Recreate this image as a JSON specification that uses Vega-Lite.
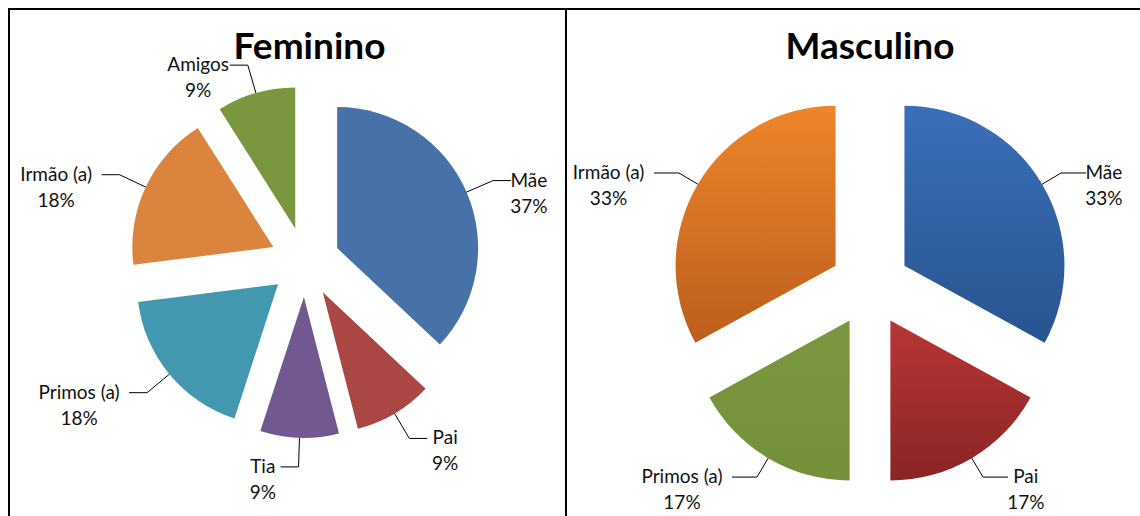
{
  "$schema": "https://vega.github.io/schema/vega-lite/v6.json",
  "background": "white",
  "padding": {"left": 8, "top": 8, "right": -7, "bottom": -6},
  "spacing": 0,
  "bounds": "flush",
  "config": {"view": {"stroke": null}},
  "datasets": {
    "fem": [
      {"cat": "Mãe", "v": 37},
      {"cat": "Pai", "v": 9},
      {"cat": "Tia", "v": 9},
      {"cat": "Primos (a)", "v": 18},
      {"cat": "Irmão (a)", "v": 18},
      {"cat": "Amigos", "v": 9}
    ],
    "masc": [
      {"cat": "Mãe", "v": 33},
      {"cat": "Pai", "v": 17},
      {"cat": "Primos (a)", "v": 17},
      {"cat": "Irmão (a)", "v": 33}
    ]
  },
  "hconcat": [
    {
      "width": 557,
      "height": 512,
      "view": {"stroke": "#000", "strokeWidth": 2},
      "title": {"text": "Feminino", "font": "Lato", "fontSize": 37, "fontWeight": "bold", "color": "#000", "anchor": "middle", "frame": "group", "offset": -87, "baseline": "alphabetic", "dx": 22},
      "data": {"name": "fem"},
      "transform": [
        {"window": [{"op": "sum", "field": "v", "as": "cum"}], "frame": [null, 0]},
        {"joinaggregate": [{"op": "sum", "field": "v", "as": "tot"}]},
        {"calculate": "2*PI*(datum.cum-datum.v)/datum.tot", "as": "a0"},
        {"calculate": "2*PI*datum.cum/datum.tot", "as": "a1"},
        {"calculate": "(datum.a0+datum.a1)/2", "as": "am"},
        {"calculate": "sin(datum.am)>=0?1:-1", "as": "side"},
        {"calculate": "35*sin(datum.am)", "as": "cx"},
        {"calculate": "35*cos(datum.am)", "as": "cy"},
        {"calculate": "176*sin(datum.am)", "as": "sx"},
        {"calculate": "176*cos(datum.am)", "as": "sy"},
        {"calculate": "205*sin(datum.am)", "as": "ex"},
        {"calculate": "205*cos(datum.am)", "as": "ey"},
        {"calculate": "datum.ex+18*datum.side", "as": "lx"},
        {"calculate": "datum.v+'%'", "as": "pct"},
        {"calculate": "datum.lx+datum.side*(max(length(datum.cat),length(datum.pct))*4.6+4)", "as": "tx"},
        {"calculate": "datum.cat+'\\n'+datum.pct", "as": "lab"}
      ],
      "layer": [
        {
          "mark": {"type": "arc", "outerRadius": 141},
          "encoding": {
            "x": {"field": "cx", "type": "quantitative", "scale": {"domain": [-296, 261], "nice": false, "zero": false}, "axis": null},
            "y": {"field": "cy", "type": "quantitative", "scale": {"domain": [-259, 253], "nice": false, "zero": false}, "axis": null},
            "theta": {"field": "a0", "type": "quantitative", "scale": null, "stack": null},
            "theta2": {"field": "a1"},
            "color": {"field": "cat", "type": "nominal", "legend": null,
              "scale": {"domain": ["Mãe", "Pai", "Tia", "Primos (a)", "Irmão (a)", "Amigos"],
                        "range": ["#4672A8", "#AA4643", "#71588F", "#4198AF", "#DB843D", "#7A963E"]}}
          }
        },
        {
          "mark": {"type": "rule", "color": "#000", "strokeWidth": 1},
          "encoding": {
            "x": {"field": "sx", "type": "quantitative", "scale": {"domain": [-296, 261], "nice": false, "zero": false}, "axis": null},
            "y": {"field": "sy", "type": "quantitative", "scale": {"domain": [-259, 253], "nice": false, "zero": false}, "axis": null},
            "x2": {"field": "ex"},
            "y2": {"field": "ey"}
          }
        },
        {
          "mark": {"type": "rule", "color": "#000", "strokeWidth": 1},
          "encoding": {
            "x": {"field": "ex", "type": "quantitative", "scale": {"domain": [-296, 261], "nice": false, "zero": false}, "axis": null},
            "y": {"field": "ey", "type": "quantitative", "scale": {"domain": [-259, 253], "nice": false, "zero": false}, "axis": null},
            "x2": {"field": "lx"},
            "y2": {"field": "ey"}
          }
        },
        {
          "mark": {"type": "text", "font": "Lato", "fontSize": 19, "letterSpacing": 0.8, "lineBreak": "\n", "lineHeight": 26, "align": "center", "baseline": "middle", "color": "#111"},
          "encoding": {
            "x": {"field": "tx", "type": "quantitative", "scale": {"domain": [-296, 261], "nice": false, "zero": false}, "axis": null},
            "y": {"field": "ey", "type": "quantitative", "scale": {"domain": [-259, 253], "nice": false, "zero": false}, "axis": null},
            "text": {"field": "lab", "type": "nominal"}
          }
        }
      ]
    },
    {
      "width": 580,
      "height": 512,
      "view": {"stroke": "#000", "strokeWidth": 2},
      "title": {"text": "Masculino", "font": "Lato", "fontSize": 37, "fontWeight": "bold", "color": "#000", "anchor": "middle", "frame": "group", "offset": -87, "baseline": "alphabetic", "dx": 14},
      "data": {"name": "masc"},
      "transform": [
        {"window": [{"op": "sum", "field": "v", "as": "cum"}], "frame": [null, 0]},
        {"joinaggregate": [{"op": "sum", "field": "v", "as": "tot"}]},
        {"calculate": "2*PI*(datum.cum-datum.v)/datum.tot", "as": "a0"},
        {"calculate": "2*PI*datum.cum/datum.tot", "as": "a1"},
        {"calculate": "(datum.a0+datum.a1)/2", "as": "am"},
        {"calculate": "sin(datum.am)>=0?1:-1", "as": "side"},
        {"calculate": "40*sin(datum.am)", "as": "cx"},
        {"calculate": "40*cos(datum.am)", "as": "cy"},
        {"calculate": "200*sin(datum.am)", "as": "sx"},
        {"calculate": "200*cos(datum.am)", "as": "sy"},
        {"calculate": "222*sin(datum.am)", "as": "ex"},
        {"calculate": "222*cos(datum.am)", "as": "ey"},
        {"calculate": "datum.ex+25*datum.side", "as": "lx"},
        {"calculate": "datum.v+'%'", "as": "pct"},
        {"calculate": "datum.lx+datum.side*(max(length(datum.cat),length(datum.pct))*4.6+4)", "as": "tx"},
        {"calculate": "datum.cat+'\\n'+datum.pct", "as": "lab"}
      ],
      "layer": [
        {
          "mark": {"type": "arc", "outerRadius": 160},
          "encoding": {
            "x": {"field": "cx", "type": "quantitative", "scale": {"domain": [-304, 276], "nice": false, "zero": false}, "axis": null},
            "y": {"field": "cy", "type": "quantitative", "scale": {"domain": [-235, 277], "nice": false, "zero": false}, "axis": null},
            "theta": {"field": "a0", "type": "quantitative", "scale": null, "stack": null},
            "theta2": {"field": "a1"},
            "color": {
              "condition": [
                {"test": "datum.cat === 'Mãe'", "value": {"gradient": "linear", "x1": 0, "y1": 0, "x2": 0, "y2": 1, "stops": [{"offset": 0, "color": "#3B6FB8"}, {"offset": 1, "color": "#285490"}]}},
                {"test": "datum.cat === 'Pai'", "value": {"gradient": "linear", "x1": 0, "y1": 0, "x2": 0, "y2": 1, "stops": [{"offset": 0, "color": "#B93636"}, {"offset": 1, "color": "#8A2424"}]}},
                {"test": "datum.cat === 'Primos (a)'", "value": {"gradient": "linear", "x1": 0, "y1": 0, "x2": 0, "y2": 1, "stops": [{"offset": 0, "color": "#7B973F"}, {"offset": 1, "color": "#749139"}]}}
              ],
              "value": {"gradient": "linear", "x1": 0, "y1": 0, "x2": 0, "y2": 1, "stops": [{"offset": 0, "color": "#EE852A"}, {"offset": 1, "color": "#BC5E1C"}]}
            }
          }
        },
        {
          "mark": {"type": "rule", "color": "#000", "strokeWidth": 1},
          "encoding": {
            "x": {"field": "sx", "type": "quantitative", "scale": {"domain": [-304, 276], "nice": false, "zero": false}, "axis": null},
            "y": {"field": "sy", "type": "quantitative", "scale": {"domain": [-235, 277], "nice": false, "zero": false}, "axis": null},
            "x2": {"field": "ex"},
            "y2": {"field": "ey"}
          }
        },
        {
          "mark": {"type": "rule", "color": "#000", "strokeWidth": 1},
          "encoding": {
            "x": {"field": "ex", "type": "quantitative", "scale": {"domain": [-304, 276], "nice": false, "zero": false}, "axis": null},
            "y": {"field": "ey", "type": "quantitative", "scale": {"domain": [-235, 277], "nice": false, "zero": false}, "axis": null},
            "x2": {"field": "lx"},
            "y2": {"field": "ey"}
          }
        },
        {
          "mark": {"type": "text", "font": "Lato", "fontSize": 19, "letterSpacing": 0.8, "lineBreak": "\n", "lineHeight": 26, "align": "center", "baseline": "middle", "color": "#111"},
          "encoding": {
            "x": {"field": "tx", "type": "quantitative", "scale": {"domain": [-304, 276], "nice": false, "zero": false}, "axis": null},
            "y": {"field": "ey", "type": "quantitative", "scale": {"domain": [-235, 277], "nice": false, "zero": false}, "axis": null},
            "text": {"field": "lab", "type": "nominal"}
          }
        }
      ]
    }
  ]
}
